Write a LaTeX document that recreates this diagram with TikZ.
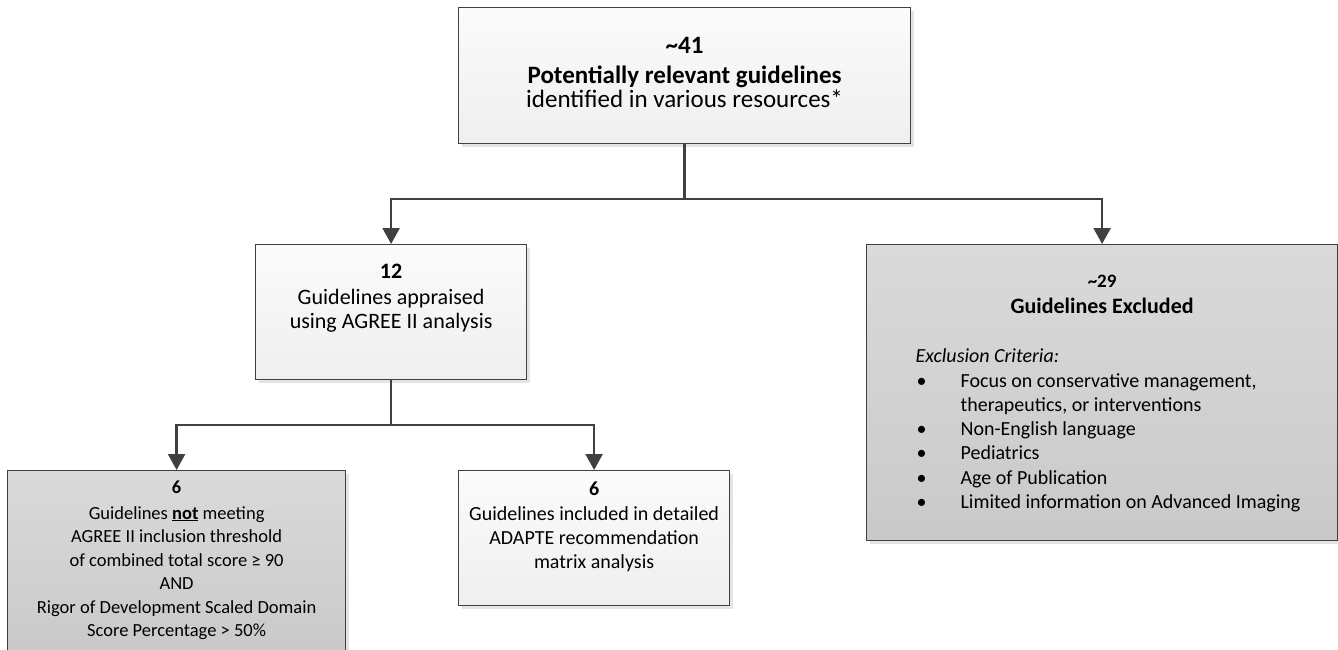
\documentclass[tikz,border=0pt]{standalone}
\usepackage{fontspec}
\setmainfont{Carlito}
\usetikzlibrary{arrows.meta, positioning, calc, shadows}

\definecolor{linegray}{HTML}{404040}
\definecolor{shadowgray}{HTML}{E4E4E4}
\definecolor{lighttop}{HTML}{FBFBFB}
\definecolor{lightbot}{HTML}{EFEFEF}
\definecolor{graytop}{HTML}{DADADA}
\definecolor{graybot}{HTML}{C9C9C9}

\begin{document}
\begin{tikzpicture}[
  x=1pt, y=-1pt,
  box/.style = {draw=linegray, line width=1.2pt, inner sep=0pt, anchor=north west,
    drop shadow={shadow xshift=3.5pt, shadow yshift=-3.5pt, fill=shadowgray, opacity=1}},
  lightbox/.style = {box, top color=lighttop, bottom color=lightbot},
  darkbox/.style = {box, top color=graytop, bottom color=graybot},
  arrow/.style = {draw=linegray, line width=2.4pt, -{Triangle[length=16pt, width=17pt]}}
]
  \useasboundingbox (0,0) rectangle (1338,650);

  % Identified guidelines
  \node[lightbox] (identified) at (458,7) {\parbox[c][136pt][t]{452pt}{\centering
    \fontsize{25}{24}\selectfont
    \rule{0pt}{46pt}{\fontsize{25}{24}\selectfont\textbf{\textasciitilde41}}\\[6pt]
    \textbf{Potentially relevant guidelines}\\
    identified in various resources*}};

  % Appraised with AGREE II
  \node[lightbox] (appraised) at (255,244) {\parbox[c][135pt][t]{271pt}{\centering
    \fontsize{22}{24}\selectfont
    \rule{0pt}{34pt}\textbf{12}\\[2pt]
    Guidelines appraised\\
    using AGREE II analysis}};

  % Excluded guidelines
  \node[darkbox] (excluded) at (866,244) {\parbox[c][296pt][t]{471pt}{\centering
    \fontsize{20}{24.3}\selectfont
    \rule{0pt}{43pt}{\fontsize{19}{20}\selectfont\textbf{\textasciitilde29}}\\[2pt]
    {\fontsize{22}{24.3}\selectfont\textbf{Guidelines Excluded}}\par
    \vspace{24.5pt}
    {\raggedright\leftskip=49pt
    \textit{Exclusion Criteria:}\\
    \makebox[45pt][l]{\hspace{1pt}\textbullet}Focus on conservative management,\\
    \hspace*{45pt}therapeutics, or interventions\\
    \makebox[45pt][l]{\hspace{1pt}\textbullet}Non-English language\\
    \makebox[45pt][l]{\hspace{1pt}\textbullet}Pediatrics\\
    \makebox[45pt][l]{\hspace{1pt}\textbullet}Age of Publication\\
    \makebox[45pt][l]{\hspace{1pt}\textbullet}Limited information on Advanced Imaging\par}}};

  % Below threshold
  \node[darkbox] (notmet) at (7,470) {\parbox[c][185pt][t]{338pt}{\centering
    \fontsize{18.5}{23.5}\selectfont
    \rule{0pt}{23pt}\textbf{6}\\[2pt]
    Guidelines \underline{\textbf{not}} meeting\\
    AGREE II inclusion threshold\\
    of combined total score ≥ 90\\
    AND\\
    Rigor of Development Scaled Domain\\
    Score Percentage > 50\%}};

  % Included in ADAPTE
  \node[lightbox] (included) at (458,470) {\parbox[c][135pt][t]{271pt}{\centering
    \fontsize{20}{24}\selectfont
    \rule{0pt}{25pt}\textbf{6}\\[1pt]
    Guidelines included in detailed\\
    ADAPTE recommendation\\
    matrix analysis}};

  % top split
  \coordinate[below=55pt of identified.south] (topjoin);
  \draw[arrow] (identified.south) -- (topjoin) -| (appraised.north);
  \draw[arrow] (topjoin) -| (excluded.north);

  % second split
  \coordinate[below=45pt of appraised.south] (midjoin);
  \draw[arrow] (appraised.south) -- (midjoin) -| (notmet.north);
  \draw[arrow] (midjoin) -| (included.north);

\end{tikzpicture}
\end{document}
